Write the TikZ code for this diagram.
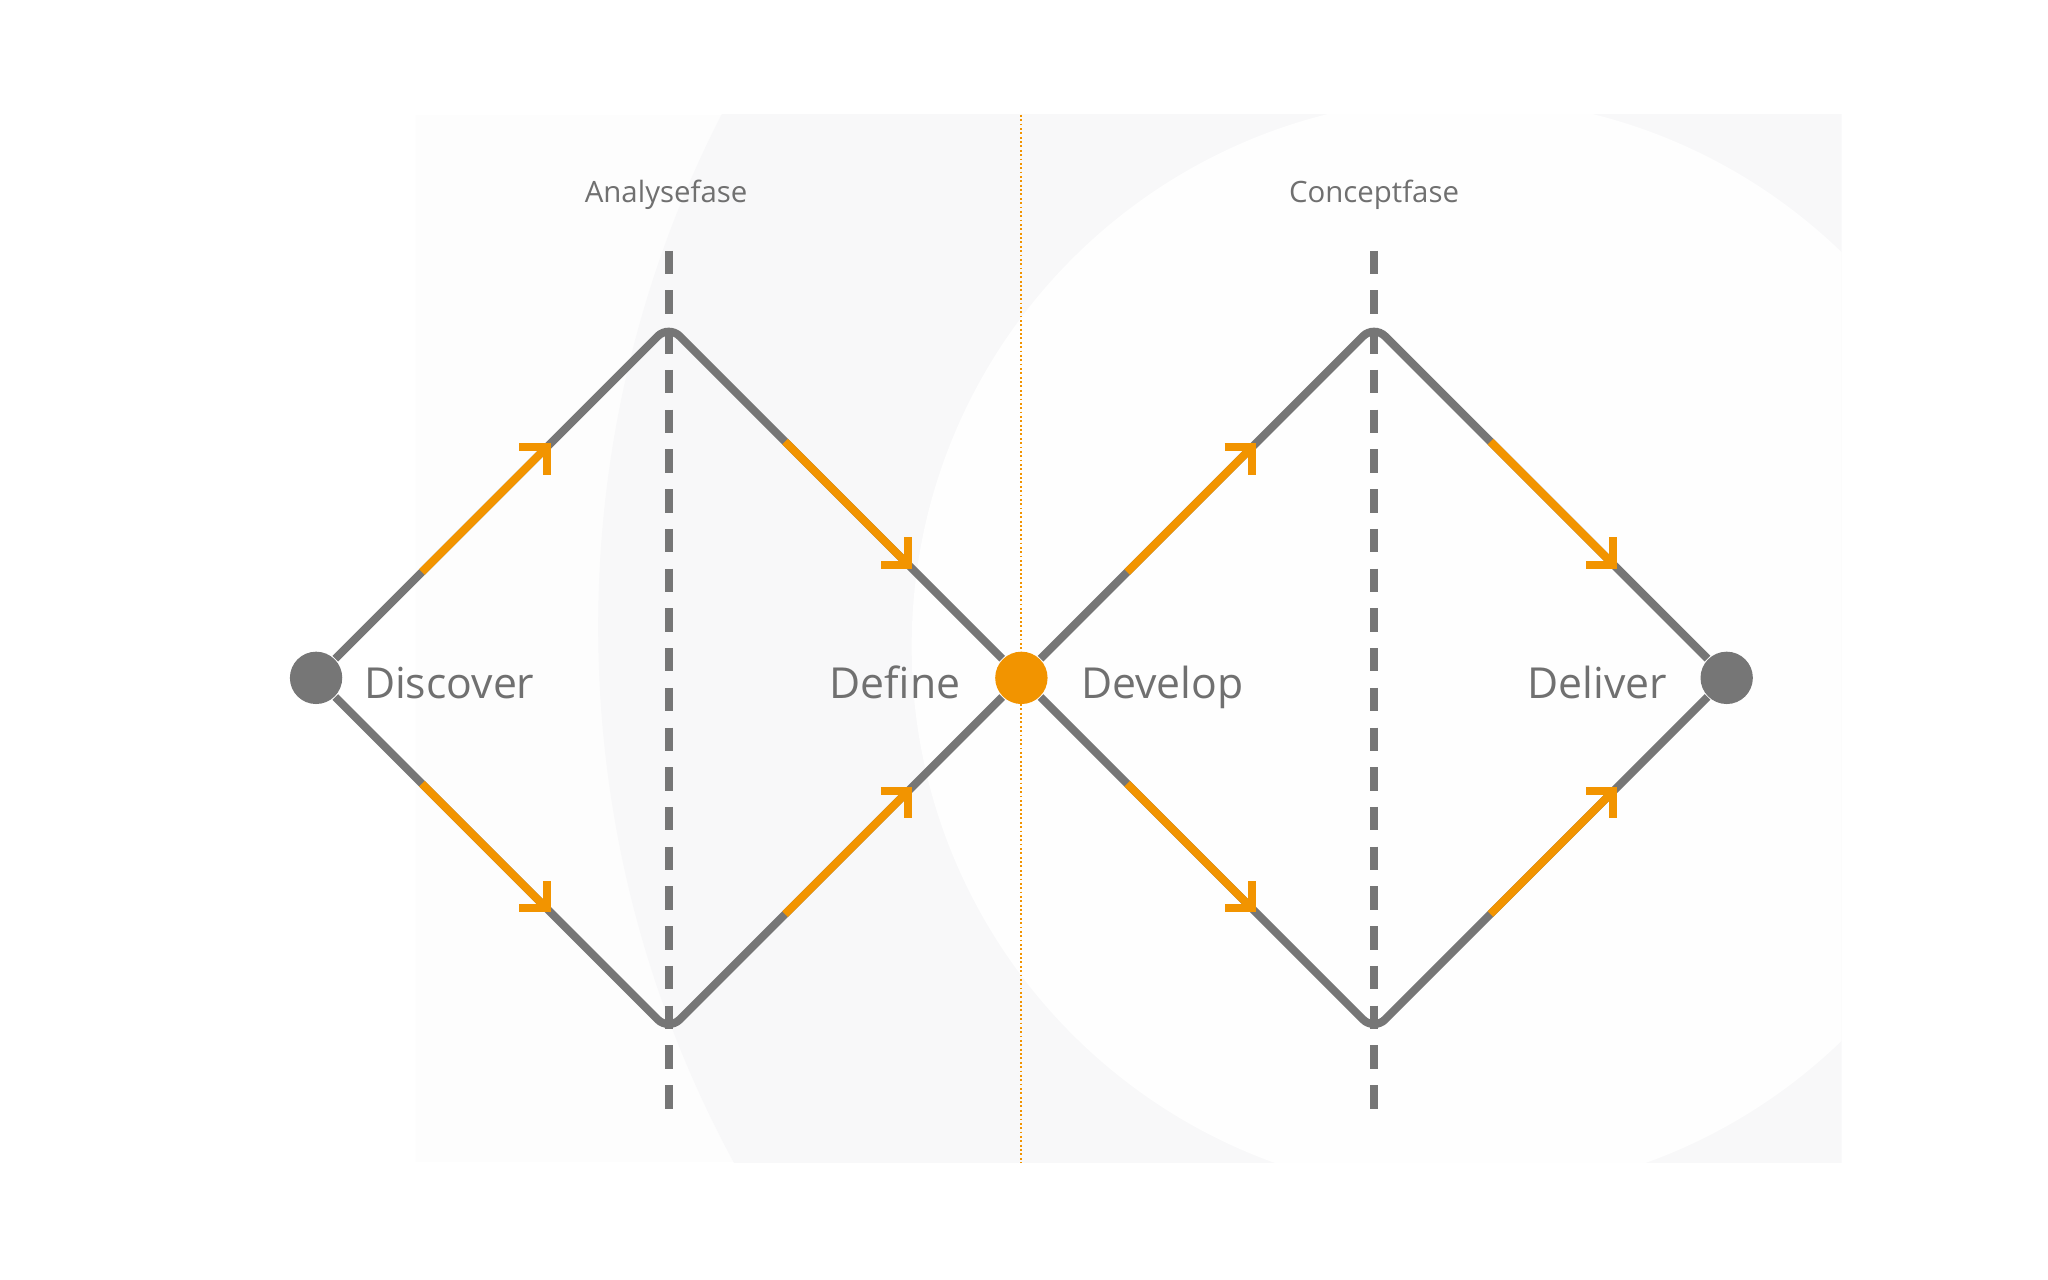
\documentclass[tikz,border=0pt]{standalone}
\usepackage{fontspec}
\setmainfont{Open Sans}
\usetikzlibrary{arrows.meta,calc}
\definecolor{linegray}{HTML}{767676}
\definecolor{textgray}{HTML}{707070}
\definecolor{dorange}{HTML}{F29400}
\definecolor{bgpale}{HTML}{FDFDFD}
\definecolor{bggray}{HTML}{F8F8F9}
\definecolor{bgwhite}{HTML}{FEFEFE}

\begin{document}
\begin{tikzpicture}[x=0.01cm,y=-0.01cm,
  edge/.style={draw=linegray,line width=1.75pt,rounded corners=3.4pt},
  flow/.style={draw=dorange,line width=1.75pt,
    -{Straight Barb[length=4.2pt,width=8.4pt,line cap=butt,line join=miter]}},
  phase/.style={draw=linegray,line width=1.7pt,dash pattern=on 5.1pt off 3.55pt},
  split/.style={draw=dorange,line width=0.4pt,dash pattern=on 0.4pt off 0.55pt},
  dot/.style={circle,fill=linegray,inner sep=0pt,minimum size=11.4pt},
  stage/.style={text=textgray,font=\fontsize{9.3}{11}\selectfont,inner sep=0pt},
  phasename/.style={text=textgray,font=\fontsize{6.4}{8}\selectfont,inner sep=0pt,anchor=base}]
  \useasboundingbox (0,0) rectangle (1568,980);

  % background
  \begin{scope}
    \clip (318,88) rectangle (1410,890);
    \fill[bgpale] (318,88) rectangle (1410,890);
    \fill[bggray] (1318,480) circle (860);
    \fill[bgwhite] (1118,495) circle (420);
  \end{scope}

  \coordinate (split top) at (782,88);
  \coordinate (split bottom) at (782,890);
  \draw[split] (split top) -- (split bottom);

  \node[phasename] (analyse) at (510,155) {Analysefase};
  \node[phasename] (concept) at (1052,155) {Conceptfase};

  \coordinate (t1) at (512,249);
  \coordinate (b1) at (512,789);
  \coordinate (t2) at (1052,249);
  \coordinate (b2) at (1052,789);

  \coordinate (a1) at (512,192);
  \coordinate (a2) at (512,855);
  \coordinate (c1) at (1052,192);
  \coordinate (c2) at (1052,855);
  \draw[phase] (a1) -- (a2);
  \draw[phase] (c1) -- (c2);

  \node[dot] (start) at (242,519) {};
  \node[dot,fill=dorange] (mid) at (782,519) {};
  \node[dot] (end) at (1322,519) {};

  \draw[edge] (start) -- (t1) -- (mid);
  \draw[edge] (start) -- (b1) -- (mid);
  \draw[edge] (mid) -- (t2) -- (end);
  \draw[edge] (mid) -- (b2) -- (end);

  \draw[flow] ($(start)!0.30!(t1)$) -- ($(start)!0.665!(t1)$);
  \draw[flow] ($(start)!0.30!(b1)$) -- ($(start)!0.665!(b1)$);
  \draw[flow] ($(t1)!0.33!(mid)$) -- ($(t1)!0.69!(mid)$);
  \draw[flow] ($(b1)!0.33!(mid)$) -- ($(b1)!0.69!(mid)$);
  \draw[flow] ($(mid)!0.30!(t2)$) -- ($(mid)!0.665!(t2)$);
  \draw[flow] ($(mid)!0.30!(b2)$) -- ($(mid)!0.665!(b2)$);
  \draw[flow] ($(t2)!0.33!(end)$) -- ($(t2)!0.69!(end)$);
  \draw[flow] ($(b2)!0.33!(end)$) -- ($(b2)!0.69!(end)$);

  \node[stage,anchor=base west] (discover) at (278,535) {Discover};
  \node[stage,anchor=base east] (define) at (736,535) {Define};
  \node[stage,anchor=base west] (develop) at (827,535) {Develop};
  \node[stage,anchor=base east] (deliver) at (1277,535) {Deliver};
\end{tikzpicture}
\end{document}
